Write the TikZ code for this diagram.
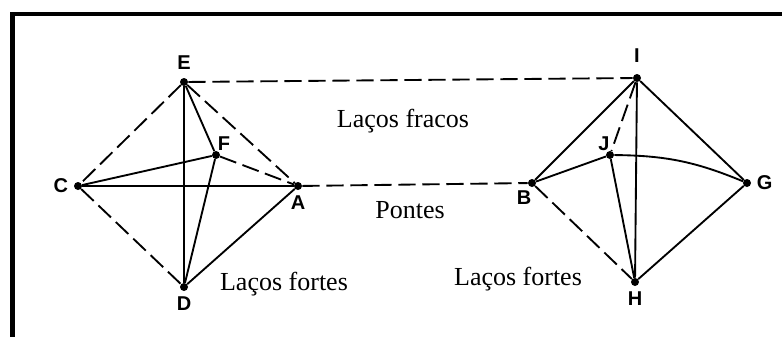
\documentclass[tikz,border=0pt]{standalone}
\usepackage{fontspec}
\setmainfont{Liberation Serif}
\newfontfamily\lettersfont{Liberation Sans}
\usetikzlibrary{positioning}

\begin{document}
\begin{tikzpicture}[
        x=0.75pt, y=-0.75pt,
        vertex/.style={circle, fill=black, inner sep=0pt, minimum size=6pt},
        letter/.style={font=\lettersfont\bfseries\fontsize{15}{17}\selectfont, inner sep=1pt},
        strong/.style={line width=1.4pt},
        weak/.style={line width=1.4pt, dash pattern=on 13pt off 5pt},
        caption/.style={font=\fontsize{19.5}{23}\selectfont, inner sep=0pt, anchor=base}
        ]

        \useasboundingbox (0,0) rectangle (782,336);
        \draw [line width=3.6pt] (12.5,340) -- (12.5,14) -- (790,14);

        % left group
        \node (nodeE)  [vertex, label={[letter, yshift=5pt]above:E}]   at (184,82)  {};
        \node (nodeC)  [vertex, label={[letter, xshift=-3pt]left:C}]   at (78,186)  {};
        \node (nodeF)  [vertex, label={[letter, xshift=-2pt]above right:F}] at (216,155) {};
        \node (nodeA)  [vertex, label={[letter, yshift=-3pt]below:A}]  at (298,186) {};
        \node (nodeD)  [vertex, label={[letter, yshift=-3pt]below:D}]  at (184,287) {};

        % right group
        \node (nodeI)  [vertex, label={[letter, yshift=7pt]above:I}]   at (637,78)  {};
        \node (nodeB)  [vertex, label={[letter, xshift=3pt, yshift=-2pt]below left:B}] at (532,183) {};
        \node (nodeJ)  [vertex, label={[letter, xshift=3pt]above left:J}] at (610,155) {};
        \node (nodeG)  [vertex, label={[letter, xshift=3pt]right:G}]   at (747,183) {};
        \node (nodeH)  [vertex, label={[letter, yshift=-3pt]below:H}]  at (635,282) {};

        \draw [weak]   (nodeE) -- (nodeC);
        \draw [weak]   (nodeC) -- (nodeD);
        \draw [weak]   (nodeE) -- (nodeA);
        \draw [weak]   (nodeF) -- (nodeA);
        \draw [strong] (nodeE) -- (nodeD);
        \draw [strong] (nodeE) -- (nodeF);
        \draw [strong] (nodeC) -- (nodeF);
        \draw [strong] (nodeC) -- (nodeA);
        \draw [strong] (nodeF) -- (nodeD);
        \draw [strong] (nodeD) -- (nodeA);

        \draw [weak]   (nodeE) -- (nodeI);
        \draw [weak]   (nodeA) -- (nodeB);

        \draw [strong] (nodeI) -- (nodeB);
        \draw [strong] (nodeI) -- (nodeG);
        \draw [weak]   (nodeI) -- (nodeJ);
        \draw [strong] (nodeI) -- (nodeH);
        \draw [strong] (nodeB) -- (nodeJ);
        \draw [strong] (nodeJ) to[bend left=11] (nodeG);
        \draw [strong] (nodeJ) -- (nodeH);
        \draw [weak]   (nodeB) -- (nodeH);
        \draw [strong] (nodeH) -- (nodeG);

        \node (fracos)  [caption] at (403,127) {Laços fracos};
        \node (pontes)  [caption] at (410,218) {Pontes};
        \node (fortesL) [caption] at (284,290) {Laços fortes};
        \node (fortesR) [caption] at (518,285) {Laços fortes};

    \end{tikzpicture}
\end{document}
